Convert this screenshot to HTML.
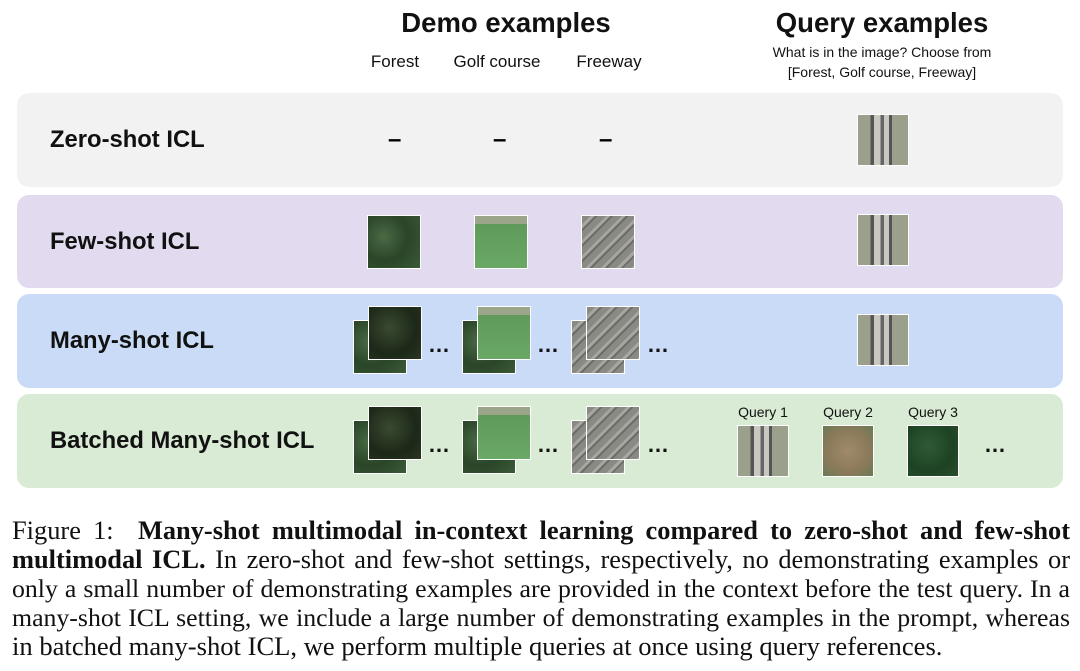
<!DOCTYPE html>
<html><head><meta charset="utf-8"><style>
body{margin:0;width:1080px;height:671px;background:#fff;position:relative;overflow:hidden;font-family:"Liberation Sans",sans-serif;}
.a{position:absolute}
.h{font-weight:bold;font-size:27.5px;color:#111;transform:translateX(-50%);white-space:nowrap}
.l{font-size:17px;color:#111;transform:translateX(-50%);white-space:nowrap}
.p{position:absolute;left:17px;width:1046px;border-radius:12px}
.r{position:absolute;left:50px;font-weight:bold;font-size:23.8px;color:#111}
.im{position:absolute;width:54px;height:54px;border:1px solid #fff;box-sizing:border-box}
.fo{background:radial-gradient(circle at 30% 40%,#4a6a45,#2a4528 50%,#3a5a36)}
.fd{background:radial-gradient(circle at 40% 40%,#3a4a30,#1c2818 60%,#2a3522)}
.go{background:linear-gradient(180deg,#9aa58a 0 15%,#5f9a5a 15%,#6aa865)}
.fw{background:repeating-linear-gradient(135deg,#8a8a85 0 6px,#a8a6a0 6px 9px,#6d6d68 9px 11px)}
.q{background:linear-gradient(90deg,#9aa08c 0 25%,#555 25% 32%,#c8c8c0 32% 45%,#666 45% 52%,#c8c8c0 52% 62%,#555 62% 68%,#9aa08c 68%)}
.q2{background:radial-gradient(circle at 50% 50%,#a08a6a,#8a7a5a 60%,#6a7a55)}
.q3{background:radial-gradient(circle at 40% 40%,#2f5a35,#1e4224 60%,#2a4f2e)}
.d{position:absolute;font-size:22px;font-weight:bold;color:#111;letter-spacing:1px}
.dash{position:absolute;font-size:24px;font-weight:bold}
.cap{position:absolute;left:12px;width:1058px;font-family:"Liberation Serif",serif;font-size:26.4px;line-height:29px;color:#111;text-align:justify;text-align-last:justify;white-space:nowrap}
</style></head><body>
<div class="a h" style="left:506px;top:7px">Demo examples</div>
<div class="a h" style="left:882px;top:7px">Query examples</div>
<div class="a l" style="left:395px;top:52px">Forest</div>
<div class="a l" style="left:497px;top:52px">Golf course</div>
<div class="a l" style="left:609px;top:52px">Freeway</div>
<div class="a l" style="left:882px;top:44px;font-size:14px">What is in the image? Choose from</div>
<div class="a l" style="left:882px;top:64px;font-size:14px">[Forest, Golf course, Freeway]</div>

<div class="p" style="top:93px;height:94px;background:#f2f2f2"></div>
<div class="p" style="top:195px;height:93px;background:#e2dbef"></div>
<div class="p" style="top:294px;height:94px;background:#c9dbf6"></div>
<div class="p" style="top:394px;height:94px;background:#d9ebd4"></div>

<div class="r" style="top:126px">Zero-shot ICL</div>
<div class="r" style="top:228px">Few-shot ICL</div>
<div class="r" style="top:327px">Many-shot ICL</div>
<div class="r" style="top:427px">Batched Many-shot ICL</div>

<div class="dash" style="left:388px;top:126px">–</div>
<div class="dash" style="left:493px;top:126px">–</div>
<div class="dash" style="left:599px;top:126px">–</div>
<div class="im q" style="left:857px;top:114px;width:52px;height:52px"></div>

<div class="im fo" style="left:367px;top:215px"></div>
<div class="im go" style="left:474px;top:215px"></div>
<div class="im fw" style="left:581px;top:215px"></div>
<div class="im q" style="left:857px;top:214px;width:52px;height:52px"></div>

<div class="im fo" style="left:353px;top:320px"></div>
<div class="im fd" style="left:368px;top:306px"></div>
<div class="d" style="left:428px;top:332px">…</div>
<div class="im fo" style="left:462px;top:320px"></div>
<div class="im go" style="left:477px;top:306px"></div>
<div class="d" style="left:537px;top:332px">…</div>
<div class="im fw" style="left:571px;top:320px"></div>
<div class="im fw" style="left:586px;top:306px"></div>
<div class="d" style="left:647px;top:332px">…</div>
<div class="im q" style="left:857px;top:314px;width:52px;height:52px"></div>

<div class="im fo" style="left:353px;top:420px"></div>
<div class="im fd" style="left:368px;top:406px"></div>
<div class="d" style="left:428px;top:432px">…</div>
<div class="im fo" style="left:462px;top:420px"></div>
<div class="im go" style="left:477px;top:406px"></div>
<div class="d" style="left:537px;top:432px">…</div>
<div class="im fw" style="left:571px;top:420px"></div>
<div class="im fw" style="left:586px;top:406px"></div>
<div class="d" style="left:647px;top:432px">…</div>
<div class="a l" style="left:763px;top:404px;font-size:14px">Query 1</div>
<div class="a l" style="left:848px;top:404px;font-size:14px">Query 2</div>
<div class="a l" style="left:933px;top:404px;font-size:14px">Query 3</div>
<div class="im q" style="left:737px;top:425px;width:52px;height:52px"></div>
<div class="im q2" style="left:822px;top:425px;width:52px;height:52px"></div>
<div class="im q3" style="left:907px;top:425px;width:52px;height:52px"></div>
<div class="d" style="left:984px;top:432px">…</div>

<div class="cap" style="top:516px">Figure 1: &nbsp;<b>Many-shot multimodal in-context learning compared to zero-shot and few-shot</b></div>
<div class="cap" style="top:545px"><b>multimodal ICL.</b> In zero-shot and few-shot settings, respectively, no demonstrating examples or</div>
<div class="cap" style="top:574px;font-size:25.8px">only a small number of demonstrating examples are provided in the context before the test query. In a</div>
<div class="cap" style="top:603px;font-size:25.8px">many-shot ICL setting, we include a large number of demonstrating examples in the prompt, whereas</div>
<div class="cap" style="top:632px;text-align-last:left;font-size:26.6px">in batched many-shot ICL, we perform multiple queries at once using query references.</div>
</body></html>
